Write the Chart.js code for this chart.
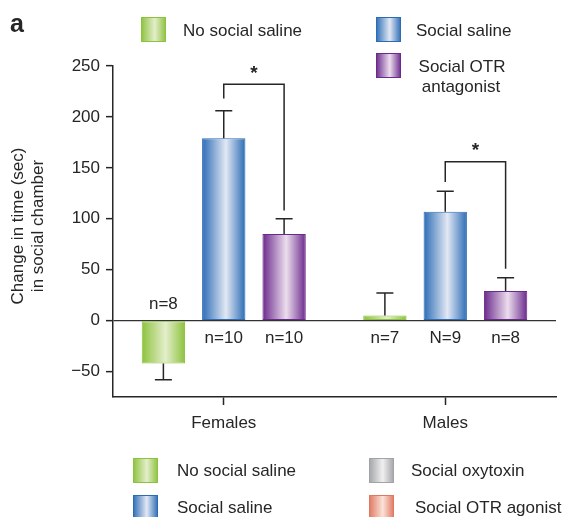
<!DOCTYPE html>
<html>
<head>
<meta charset="utf-8">
<script src="https://cdn.jsdelivr.net/npm/chart.js@4/dist/chart.umd.min.js"></script>
<style>
  html, body { margin: 0; padding: 0; background: #fff; }
  #wrap { position: relative; width: 565px; height: 517px; }
</style>
</head>
<body>
<div id="wrap"><canvas id="c" width="565" height="517"></canvas></div>
<script>
// Groups and series
const groups = ['Females', 'Males'];
const seriesNames = ['No social saline', 'Social saline', 'Social OTR antagonist'];

// Mean change in time spent in the social chamber (sec)
const noSocialSaline = [-42, 5];
const socialSaline = [179, 107];
const socialOTRAntagonist = [85, 29];

// Standard error of the mean (sec)
const noSocialSalineSEM = [16, 22];
const socialSalineSEM = [27, 20];
const socialOTRAntagonistSEM = [15, 13];

// Group sizes printed next to each bar
const noSocialSalineN = ['n=8', 'n=7'];
const socialSalineN = ['n=10', 'N=9'];
const socialOTRAntagonistN = ['n=10', 'n=8'];

// Y axis tick values
const yTicks = [-50, 0, 50, 100, 150, 200, 250];

// Significance brackets between Social saline and Social OTR antagonist
const bracketGroups = [0, 1];
const bracketLeftEnd = [218, 136];
const bracketRightEnd = [108, 51];
const bracketTop = [232, 156];
const bracketMark = ['*', '*'];

// Legend entries
const topLegend = ['No social saline', 'Social saline', 'Social OTR antagonist'];
const bottomLegend = ['No social saline', 'Social oxytoxin', 'Social saline', 'Social OTR agonist'];

const FONT = "'Liberation Sans', Arial, Helvetica, sans-serif";
const INK = '#262626';

// Edge / highlight colours for the cylinder-like shading
const shades = {
  'No social saline':      { dark: '#8cc23d', light: '#e4eecb' },
  'Social saline':         { dark: '#2c6cb5', light: '#e2e8f4' },
  'Social OTR antagonist': { dark: '#6a2a8c', light: '#ecdeee' },
  'Social oxytoxin':       { dark: '#a2a3a6', light: '#f0f0f1' },
  'Social OTR agonist':    { dark: '#e07862', light: '#fbe2d8' }
};

const values = [noSocialSaline, socialSaline, socialOTRAntagonist];
const sems = [noSocialSalineSEM, socialSalineSEM, socialOTRAntagonistSEM];
const nLabels = [noSocialSalineN, socialSalineN, socialOTRAntagonistN];

function shadeGradient(ctx, x0, x1, name) {
  const s = shades[name];
  const g = ctx.createLinearGradient(x0, 0, x1, 0);
  g.addColorStop(0, s.dark);
  g.addColorStop(0.55, s.light);
  g.addColorStop(1, s.dark);
  return g;
}

const decor = {
  id: 'decor',
  beforeDatasetsDraw(chart) {
    const ctx = chart.ctx;
    chart.data.datasets.forEach((ds, di) => {
      chart.getDatasetMeta(di).data.forEach(el => {
        el.options.backgroundColor = shadeGradient(ctx, el.x - el.width / 2, el.x + el.width / 2, ds.label);
      });
    });
  },
  afterDatasetsDraw(chart) {
    const ctx = chart.ctx;
    const y = chart.scales.y;
    const zeroY = y.getPixelForValue(0);
    ctx.save();
    ctx.strokeStyle = INK;
    ctx.lineWidth = 1.5;
    ctx.fillStyle = INK;
    ctx.font = '17px ' + FONT;
    ctx.textAlign = 'center';
    ctx.textBaseline = 'middle';
    chart.data.datasets.forEach((ds, di) => {
      const meta = chart.getDatasetMeta(di);
      meta.data.forEach((el, i) => {
        const v = values[di][i];
        const e = sems[di][i];
        const yEnd = y.getPixelForValue(v >= 0 ? v + e : v - e);
        // error bar with cap
        ctx.beginPath();
        ctx.moveTo(el.x, el.y);
        ctx.lineTo(el.x, yEnd);
        ctx.moveTo(el.x - 8.5, yEnd);
        ctx.lineTo(el.x + 8.5, yEnd);
        ctx.stroke();
        // group size
        ctx.fillText(nLabels[di][i], el.x, v < 0 ? zeroY - 16 : zeroY + 18);
      });
    });
    // significance brackets
    bracketGroups.forEach((g, k) => {
      const a = chart.getDatasetMeta(1).data[g];
      const b = chart.getDatasetMeta(2).data[g];
      const yl = y.getPixelForValue(bracketLeftEnd[k]);
      const yr = y.getPixelForValue(bracketRightEnd[k]);
      const yt = y.getPixelForValue(bracketTop[k]);
      ctx.beginPath();
      ctx.moveTo(a.x, yl);
      ctx.lineTo(a.x, yt);
      ctx.lineTo(b.x, yt);
      ctx.lineTo(b.x, yr);
      ctx.stroke();
      ctx.font = 'bold 19px ' + FONT;
      ctx.textBaseline = 'alphabetic';
      ctx.fillText(bracketMark[k], (a.x + b.x) / 2, yt - 5.5);
    });
    ctx.restore();
  },
  afterDraw(chart) {
    const ctx = chart.ctx;
    ctx.save();
    ctx.fillStyle = INK;

    // panel letter
    ctx.font = 'bold 25px ' + FONT;
    ctx.textAlign = 'left';
    ctx.textBaseline = 'alphabetic';
    ctx.fillText('a', 10, 32);

    // y axis title (two lines)
    ctx.save();
    ctx.translate(0, 226);
    ctx.rotate(-Math.PI / 2);
    ctx.font = '17px ' + FONT;
    ctx.textAlign = 'center';
    ctx.textBaseline = 'middle';
    ctx.fillText('Change in time (sec)', 0, 18);
    ctx.fillText('in social chamber', 0, 38);
    ctx.restore();

    function swatch(x, yTop, name) {
      ctx.fillStyle = shadeGradient(ctx, x, x + 25, name);
      ctx.fillRect(x, yTop, 25, 25);
      ctx.strokeStyle = shades[name].dark;
      ctx.lineWidth = 1;
      ctx.strokeRect(x + 0.5, yTop + 0.5, 24, 24);
      ctx.fillStyle = INK;
    }

    ctx.font = '17px ' + FONT;
    ctx.textBaseline = 'middle';

    // top legend
    swatch(141, 17, topLegend[0]);
    ctx.textAlign = 'left';
    ctx.fillText(topLegend[0], 183, 31);
    swatch(376, 17, topLegend[1]);
    ctx.fillText(topLegend[1], 416, 31);
    swatch(376, 53, topLegend[2]);
    ctx.textAlign = 'center';
    ctx.fillText('Social OTR', 462, 67);
    ctx.fillText('antagonist', 461, 87);

    // bottom legend
    ctx.textAlign = 'left';
    swatch(133, 458, bottomLegend[0]);
    ctx.fillText(bottomLegend[0], 177, 471);
    swatch(369, 458, bottomLegend[1]);
    ctx.fillText(bottomLegend[1], 411, 471);
    swatch(133, 495, bottomLegend[2]);
    ctx.fillText(bottomLegend[2], 177, 508);
    swatch(369, 495, bottomLegend[3]);
    ctx.fillText(bottomLegend[3], 415, 508);

    ctx.restore();
  }
};

Chart.defaults.font.family = FONT;
Chart.defaults.color = INK;

new Chart(document.getElementById('c'), {
  type: 'bar',
  data: {
    labels: groups,
    datasets: seriesNames.map((name, di) => ({
      label: name,
      data: values[di],
      backgroundColor: () => shades[name].dark,
      borderColor: shades[name].dark,
      borderWidth: 1,
      borderSkipped: false,
      categoryPercentage: 0.8175,
      barPercentage: 0.718
    }))
  },
  options: {
    responsive: false,
    animation: false,
    devicePixelRatio: 1,
    layout: { padding: { top: 66, right: 9, left: 0, bottom: 0 } },
    plugins: { legend: { display: false }, tooltip: { enabled: false } },
    scales: {
      x: {
        grid: { display: true, drawOnChartArea: false, offset: false, tickLength: 8, tickWidth: 1.5, tickColor: INK },
        border: { display: true, color: INK, width: 1.5 },
        ticks: { font: { size: 17 }, color: INK, padding: 8 },
        afterFit: s => { s.height = 120; }
      },
      y: {
        min: -75,
        max: 250,
        afterBuildTicks: s => { s.ticks = yTicks.map(v => ({ value: v })); },
        grid: {
          drawOnChartArea: true,
          color: c => (c.tick && c.tick.value === 0 ? '#333' : 'rgba(0,0,0,0)'),
          lineWidth: 1.3,
          tickLength: 7,
          tickWidth: 1.5,
          tickColor: INK
        },
        border: { display: true, color: INK, width: 1.5 },
        ticks: {
          font: { size: 17 },
          color: INK,
          padding: 6,
          callback: v => (v < 0 ? '\u2212' + Math.abs(v) : String(v))
        },
        afterFit: s => { s.width = 113; }
      }
    }
  },
  plugins: [decor]
});
</script>
</body>
</html>
